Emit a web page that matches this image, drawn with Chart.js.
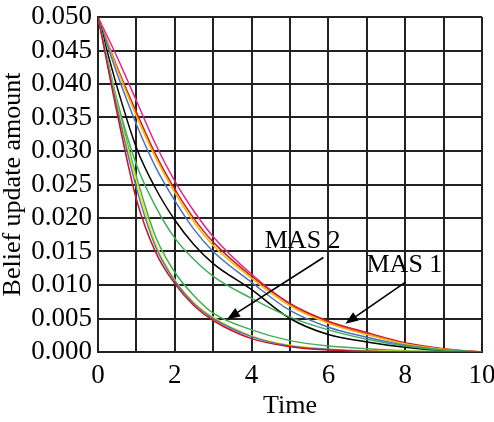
<!DOCTYPE html>
<html>
<head>
<meta charset="utf-8">
<script src="https://cdn.jsdelivr.net/npm/chart.js@4.4.1/dist/chart.umd.min.js"></script>
<style>
  html, body { margin: 0; padding: 0; background: #fff; }
  #wrap { width: 494px; height: 422px; position: relative; }
</style>
</head>
<body>
<div id="wrap"><canvas id="c"></canvas></div>
<script>
// ---- data ----
const times = [0, 0.5, 1, 1.5, 2, 2.5, 3, 4, 5, 6, 7, 8, 9, 10];

const mas1Magenta = [0.050, 0.0440, 0.0375, 0.0310, 0.0255, 0.0210, 0.0172, 0.0116, 0.0072, 0.0044, 0.0027, 0.0012, 0.0004, 0];
const mas1Red     = [0.050, 0.0425, 0.0358, 0.0295, 0.0243, 0.0199, 0.0164, 0.0113, 0.0072, 0.0046, 0.0029, 0.0014, 0.0005, 0];
const mas1Yellow  = [0.050, 0.0422, 0.0352, 0.0290, 0.0238, 0.0194, 0.0159, 0.0110, 0.0069, 0.0043, 0.0026, 0.0012, 0.0004, 0];
const mas1Blue    = [0.050, 0.0415, 0.0340, 0.0276, 0.0226, 0.0183, 0.0150, 0.0104, 0.0062, 0.0037, 0.0022, 0.0010, 0.0003, 0];
const mas1Black   = [0.050, 0.0395, 0.0305, 0.0244, 0.0197, 0.0160, 0.0132, 0.0093, 0.0050, 0.0026, 0.0015, 0.0007, 0.0002, 0];
const mas1Green   = [0.050, 0.0375, 0.0280, 0.0217, 0.0170, 0.0138, 0.0113, 0.0080, 0.0052, 0.0033, 0.0019, 0.0009, 0.0003, 0];
const mas2Green   = [0.050, 0.0372, 0.0262, 0.0172, 0.0119, 0.0084, 0.0058, 0.0033, 0.0017, 0.0009, 0.0005, 0.0002, 0.0001, 0];
const mas2Yellow  = [0.050, 0.0368, 0.0255, 0.0162, 0.0108, 0.0074, 0.0052, 0.0024, 0.0010, 0.0004, 0.0002, 0.0001, 0, 0];
const mas2Blue    = [0.050, 0.0364, 0.0245, 0.0157, 0.0106, 0.0072, 0.0050, 0.0023, 0.0009, 0.0004, 0.0001, 0, 0, 0];
const mas2Red     = [0.050, 0.0356, 0.0228, 0.0149, 0.0102, 0.0069, 0.0047, 0.0020, 0.0008, 0.0003, 0.0001, 0, 0, 0];

const xTickLabels = ['0', '2', '4', '6', '8', '10'];
const yTickLabels = ['0.000','0.005','0.010','0.015','0.020','0.025','0.030','0.035','0.040','0.045','0.050'];
const xTitle = 'Time';
const yTitle = 'Belief update amount';

// annotation texts with anchors in data units
const annLabels = ['MAS 2', 'MAS 1'];
const annTextPos = [[5.33, 0.0165], [7.98, 0.0129]];
const annArrowFrom = [[5.87, 0.0141], [8.0, 0.0104]];
const annArrowTo = [[3.36, 0.0049], [6.44, 0.0042]];

const series = [
  { name: 'MAS2 red', data: mas2Red, color: '#c8161e' },
  { name: 'MAS2 blue', data: mas2Blue, color: '#4a78c8' },
  { name: 'MAS2 yellow', data: mas2Yellow, color: '#f2e600' },
  { name: 'MAS2 green', data: mas2Green, color: '#3fae5a' },
  { name: 'MAS1 green', data: mas1Green, color: '#3fae5a' },
  { name: 'MAS1 black', data: mas1Black, color: '#000000' },
  { name: 'MAS1 blue', data: mas1Blue, color: '#4a72c4' },
  { name: 'MAS1 yellow', data: mas1Yellow, color: '#f5b800' },
  { name: 'MAS1 red', data: mas1Red, color: '#d41e1e' },
  { name: 'MAS1 magenta', data: mas1Magenta, color: '#e0268a' }
];

const FONT = "'Liberation Serif', 'Times New Roman', serif";

const annotationPlugin = {
  id: 'annots',
  afterDraw(chart) {
    const ctx = chart.ctx;
    const xs = chart.scales.x, ys = chart.scales.y;
    const ca = chart.chartArea;
    ctx.save();
    ctx.fillStyle = '#000';
    ctx.strokeStyle = '#000';
    // y axis title
    ctx.save();
    ctx.font = '26px ' + FONT;
    ctx.textAlign = 'center';
    ctx.textBaseline = 'middle';
    ctx.translate(13, (ca.top + ca.bottom) / 2);
    ctx.rotate(-Math.PI / 2);
    ctx.fillText(yTitle, 0, 0);
    ctx.restore();

    ctx.font = '26px ' + FONT;
    ctx.textAlign = 'center';
    ctx.textBaseline = 'middle';
    annLabels.forEach((lab, i) => {
      const tx = xs.getPixelForValue(annTextPos[i][0]);
      const ty = ys.getPixelForValue(annTextPos[i][1]);
      ctx.fillText(lab, tx, ty);
      const x1 = xs.getPixelForValue(annArrowFrom[i][0]);
      const y1 = ys.getPixelForValue(annArrowFrom[i][1]);
      const x2 = xs.getPixelForValue(annArrowTo[i][0]);
      const y2 = ys.getPixelForValue(annArrowTo[i][1]);
      const ang = Math.atan2(y2 - y1, x2 - x1);
      const hl = 13, hw = 5;
      const bx = x2 - hl * Math.cos(ang), by = y2 - hl * Math.sin(ang);
      ctx.lineWidth = 1.6;
      ctx.beginPath();
      ctx.moveTo(x1, y1);
      ctx.lineTo(bx, by);
      ctx.stroke();
      ctx.beginPath();
      ctx.moveTo(x2, y2);
      ctx.lineTo(bx + hw * Math.sin(ang), by - hw * Math.cos(ang));
      ctx.lineTo(bx - hw * Math.sin(ang), by + hw * Math.cos(ang));
      ctx.closePath();
      ctx.fill();
    });
    ctx.restore();
  }
};

new Chart(document.getElementById('c'), {
  type: 'line',
  data: {
    datasets: series.map(s => ({
      label: s.name,
      data: times.map((t, i) => ({ x: t, y: s.data[i] })),
      borderColor: s.color,
      backgroundColor: s.color,
      borderWidth: 1.5,
      pointRadius: 0,
      fill: false,
      cubicInterpolationMode: 'monotone'
    }))
  },
  options: {
    responsive: true,
    maintainAspectRatio: false,
    animation: false,
    layout: { padding: { left: 0, right: 12, top: 17, bottom: 0 } },
    plugins: { legend: { display: false }, tooltip: { enabled: false } },
    scales: {
      x: {
        type: 'linear', min: 0, max: 10,
        border: { display: true, color: '#222', width: 2 },
        grid: { color: '#222', lineWidth: 2, drawTicks: false },
        ticks: {
          stepSize: 1, padding: 8, color: '#000', maxRotation: 0, autoSkip: false,
          font: { family: FONT, size: 27 },
          callback: (v) => { const k = xTickLabels.indexOf(String(v)); return k >= 0 ? xTickLabels[k] : ''; }
        },
        title: { display: true, text: xTitle, color: '#000', font: { family: FONT, size: 26 }, padding: { top: 0, bottom: 0 } },
        afterFit: (s) => { s.height = 70; s.paddingLeft = 0; s.paddingRight = 0; }
      },
      y: {
        type: 'linear', min: 0, max: 0.05,
        border: { display: true, color: '#222', width: 2 },
        grid: { color: '#222', lineWidth: 2, drawTicks: false },
        ticks: {
          stepSize: 0.005, padding: 6, color: '#000', autoSkip: false,
          font: { family: FONT, size: 27 },
          callback: (v) => yTickLabels[Math.round(v / 0.005)]
        },
        title: { display: false },
        afterFit: (s) => { s.width = 98; s.paddingTop = 0; s.paddingBottom = 0; }
      }
    }
  },
  plugins: [annotationPlugin]
});
</script>
</body>
</html>
